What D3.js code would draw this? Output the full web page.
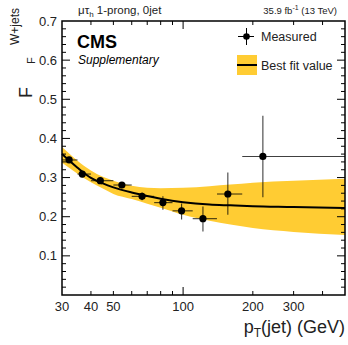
<!DOCTYPE html>
<html>
<head>
<meta charset="utf-8">
<script src="https://cdn.jsdelivr.net/npm/d3@7"></script>
<style>
  html, body { margin: 0; padding: 0; background: #fff; }
  svg { display: block; font-family: "Liberation Sans", Arial, sans-serif; }
</style>
</head>
<body>
<svg id="chart" width="348" height="345"></svg>
<script>
// Measured fake factor per jet-pT bin
const binLow  = [30, 35, 40, 50, 60, 75, 90, 110, 140, 180];
const binHigh = [35, 40, 50, 60, 75, 90, 110, 140, 180, 500];
const ptMean  = [32.2, 36.7, 43.9, 54.4, 66.5, 81.8, 98.5, 121.8, 156, 221];
const ffValue = [0.345, 0.309, 0.292, 0.281, 0.252, 0.236, 0.215, 0.195, 0.258, 0.354];
const ffErrUp = [0.008, 0.008, 0.008, 0.008, 0.010, 0.016, 0.019, 0.031, 0.055, 0.104];
const ffErrDn = [0.008, 0.008, 0.008, 0.008, 0.010, 0.018, 0.022, 0.033, 0.053, 0.104];

// Best fit curve with its uncertainty band
const fitPt    = [30, 35, 40, 45, 50, 60, 70, 80, 100, 130, 160, 200, 300, 500];
const fitValue = [0.360, 0.325, 0.299, 0.285, 0.275, 0.262, 0.253, 0.246, 0.237, 0.231, 0.229, 0.227, 0.225, 0.222];
const fitUp    = [0.378, 0.343, 0.318, 0.302, 0.292, 0.279, 0.274, 0.273, 0.274, 0.278, 0.282, 0.287, 0.292, 0.297];
const fitDown  = [0.338, 0.310, 0.288, 0.272, 0.258, 0.245, 0.233, 0.223, 0.205, 0.190, 0.180, 0.171, 0.161, 0.153];

// Axis ticks
const xTickLabels = [30, 40, 50, 100, 200, 300];
const xMinorTicks = [40, 50, 60, 70, 80, 90, 200, 300, 400];
const xMajorTicks = [100];
const yTickLabels = [0.1, 0.2, 0.3, 0.4, 0.5, 0.6, 0.7];

const svg = d3.select("#chart");
const L = 62, R = 345, T = 21, B = 295;

const x = d3.scaleLog().domain([30, 500]).range([L, R]);
const y = d3.scaleLinear().domain([0, 0.7]).range([B, T]);

const plot = svg.append("g");

// Uncertainty band
const band = d3.area()
  .x((d, i) => x(fitPt[i]))
  .y0((d, i) => y(fitDown[i]))
  .y1((d, i) => y(fitUp[i]))
  .curve(d3.curveMonotoneX);
plot.append("path")
  .datum(fitPt)
  .attr("d", band)
  .attr("fill", "#ffcc33");

// Best fit line
const fitLine = d3.line()
  .x((d, i) => x(fitPt[i]))
  .y((d, i) => y(fitValue[i]))
  .curve(d3.curveMonotoneX);
plot.append("path")
  .datum(fitPt)
  .attr("d", fitLine)
  .attr("fill", "none")
  .attr("stroke", "#000")
  .attr("stroke-width", 2);

// Measured points with error bars
const pts = plot.selectAll("g.pt").data(ffValue).enter().append("g").attr("class", "pt");
pts.append("line")
  .attr("x1", (d, i) => x(binLow[i])).attr("x2", (d, i) => x(binHigh[i]))
  .attr("y1", d => y(d)).attr("y2", d => y(d))
  .attr("stroke", "#000").attr("stroke-width", 1.1).attr("stroke-opacity", 0.75);
pts.append("line")
  .attr("x1", (d, i) => x(ptMean[i])).attr("x2", (d, i) => x(ptMean[i]))
  .attr("y1", (d, i) => y(d + ffErrUp[i])).attr("y2", (d, i) => y(d - ffErrDn[i]))
  .attr("stroke", "#000").attr("stroke-width", 1.1).attr("stroke-opacity", 0.75);
pts.append("circle")
  .attr("cx", (d, i) => x(ptMean[i])).attr("cy", d => y(d))
  .attr("r", 3.6).attr("fill", "#000");

// Frame
svg.append("rect")
  .attr("x", L).attr("y", T).attr("width", R - L).attr("height", B - T)
  .attr("fill", "none").attr("stroke", "#000").attr("stroke-width", 1.5);

// Ticks on all four sides
const ticks = svg.append("g").attr("stroke", "#000").attr("stroke-width", 1);
const yMinor = d3.range(1, 35).map(k => k * 0.02);
yMinor.forEach(v => {
  const major = Math.abs(v * 10 - Math.round(v * 10)) < 1e-6;
  const len = major ? 8 : 4;
  ticks.append("line").attr("x1", L).attr("x2", L + len).attr("y1", y(v)).attr("y2", y(v));
  ticks.append("line").attr("x1", R).attr("x2", R - len).attr("y1", y(v)).attr("y2", y(v));
});
xMinorTicks.concat(xMajorTicks).forEach(v => {
  const len = xMajorTicks.includes(v) ? 8 : 4;
  ticks.append("line").attr("x1", x(v)).attr("x2", x(v)).attr("y1", B).attr("y2", B - len);
  ticks.append("line").attr("x1", x(v)).attr("x2", x(v)).attr("y1", T).attr("y2", T + len);
});

// Tick labels
svg.append("g").selectAll("text").data(yTickLabels).enter().append("text")
  .attr("x", 57).attr("y", d => y(d) + 4.5)
  .attr("text-anchor", "end").attr("font-size", 13).attr("fill", "#222")
  .text(d => d.toFixed(1));
svg.append("g").selectAll("text").data(xTickLabels).enter().append("text")
  .attr("x", d => x(d)).attr("y", 311)
  .attr("text-anchor", "middle").attr("font-size", 13).attr("fill", "#222")
  .text(d => d);

// Axis titles
const xt = svg.append("text").attr("x", 345).attr("y", 333)
  .attr("text-anchor", "end").attr("font-size", 18).attr("fill", "#222");
xt.append("tspan").text("p");
xt.append("tspan").attr("font-size", 12).attr("dy", 4).text("T");
xt.append("tspan").attr("dy", -4).text("(jet) (GeV)");

// Rotated y title: F with subscript F and superscript W+jets
const yg = svg.append("g").attr("transform", "rotate(-90)").attr("fill", "#222");
yg.append("text").attr("x", -98).attr("y", 32).attr("font-size", 18).text("F");
yg.append("text").attr("x", -64).attr("y", 35).attr("font-size", 11).text("F");
yg.append("text").attr("x", -45).attr("y", 19).attr("font-size", 12).text("W+jets");

// Header texts
const hl = svg.append("text").attr("x", 78).attr("y", 14).attr("font-size", 11.5).attr("fill", "#222");
hl.append("tspan").text("μτ");
hl.append("tspan").attr("font-size", 8).attr("dy", 3).text("h");
hl.append("tspan").attr("dy", -3).text(" 1-prong, 0jet");

const hr = svg.append("text").attr("x", 337).attr("y", 14).attr("text-anchor", "end")
  .attr("font-size", 9.5).attr("fill", "#222");
hr.append("tspan").text("35.9 fb");
hr.append("tspan").attr("font-size", 7).attr("dy", -4).text("-1");
hr.append("tspan").attr("dy", 4).text(" (13 TeV)");

svg.append("text").attr("x", 77).attr("y", 48).attr("font-size", 18)
  .attr("font-weight", "bold").attr("fill", "#000").text("CMS");
svg.append("text").attr("x", 78).attr("y", 64).attr("font-size", 12)
  .attr("font-style", "italic").attr("fill", "#000").text("Supplementary");

// Legend
const lg = svg.append("g");
lg.append("line").attr("x1", 238).attr("x2", 254).attr("y1", 36.5).attr("y2", 36.5)
  .attr("stroke", "#000").attr("stroke-width", 1);
lg.append("line").attr("x1", 246.5).attr("x2", 246.5).attr("y1", 28).attr("y2", 45)
  .attr("stroke", "#000").attr("stroke-width", 1);
lg.append("circle").attr("cx", 246.5).attr("cy", 36.5).attr("r", 3.3).attr("fill", "#000");
lg.append("text").attr("x", 261).attr("y", 41).attr("font-size", 12.5).attr("fill", "#222").text("Measured");

lg.append("rect").attr("x", 237).attr("y", 55).attr("width", 20).attr("height", 20).attr("fill", "#ffcc33");
lg.append("line").attr("x1", 237).attr("x2", 257).attr("y1", 65).attr("y2", 65)
  .attr("stroke", "#000").attr("stroke-width", 2);
lg.append("text").attr("x", 261).attr("y", 70).attr("font-size", 12.5).attr("fill", "#222").text("Best fit value");
</script>
</body>
</html>
